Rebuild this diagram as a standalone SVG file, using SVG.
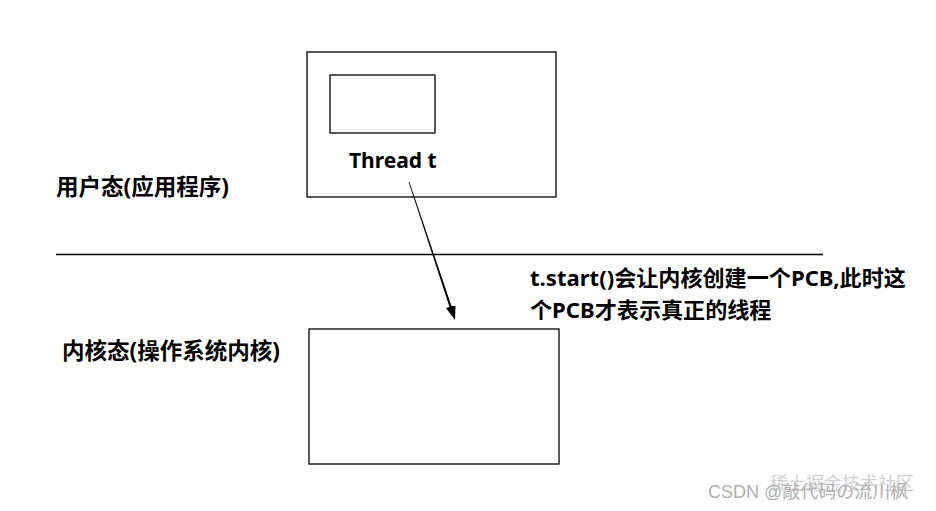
<svg xmlns="http://www.w3.org/2000/svg" width="936" height="511" viewBox="0 0 936 511">
<style>
.box{fill:none;stroke:#000;stroke-width:1.3}
.t{font-family:"Noto Sans","Noto Sans CJK SC",sans-serif;font-weight:bold;font-size:22.5px;fill:#000}
.wm{font-family:"Liberation Sans","Noto Sans CJK SC",sans-serif;font-size:18px;fill:#b0b0b0}
</style>
<rect width="936" height="511" fill="#fff"/>
<g id="user-label"><text class="t" x="56" y="195">用户态(应用程序)</text></g>
<g id="kernel-label"><text class="t" x="62" y="359">内核态(操作系统内核)</text></g>
<g id="thread-box">
<rect class="box" x="307" y="52" width="249" height="145"/>
<rect class="box" x="330" y="75" width="105" height="58"/>
<text class="t" x="349" y="168" style="font-size:21px">Thread t</text>
</g>
<g id="divider"><line x1="56" y1="254.5" x2="823" y2="254.5" stroke="#000" stroke-width="1.3"/></g>
<g id="kernel-box"><rect class="box" x="309" y="329" width="250" height="135"/></g>
<g id="note">
<text class="t" x="530" y="286" style="font-size:22.1px">t.start()会让内核创建一个PCB,此时这</text>
<text class="t" x="530" y="318" style="font-size:22.1px">个PCB才表示真正的线程</text>
</g>
<g id="connectors">
<path d="M408.6,182 L409.4,182 L451.5,306 L455.5,306 L455,320 L446,308 L449.5,307 Z" fill="#000"/>
</g>
<g id="watermark">
<text class="wm" x="708" y="498">CSDN @敲代码の流川枫</text>
<text class="wm" x="770" y="490" fill-opacity="0.6">稀土掘金技术社区</text>
</g>
</svg>
